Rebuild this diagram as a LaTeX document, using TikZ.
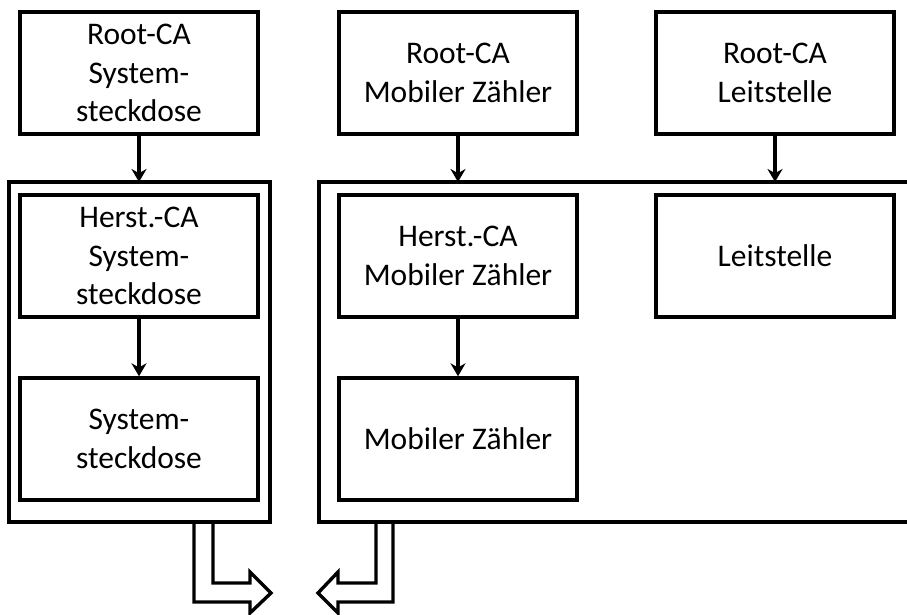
\documentclass[tikz,border=0pt]{standalone}
\usepackage{fontspec}
\setmainfont{Carlito}
\usetikzlibrary{arrows.meta}
\begin{document}
\begin{tikzpicture}[x=1pt,y=-1pt,
  box/.style={draw,line width=3.4pt,minimum width=238pt,minimum height=122pt,align=center,inner sep=0pt,
    font=\fontsize{31.5}{38.5}\selectfont},
  frame/.style={line width=3.4pt},
  conn/.style={line width=3.2pt,-{Stealth[length=13pt,width=15pt]}},
  hollow/.style={line width=3.4pt,line join=miter}]
\useasboundingbox (0,0) rectangle (907,615);
% containers
\draw[frame] (9,182) rectangle (270,522);
\draw[frame] (908,182) -- (319,182) -- (319,522) -- (908,522);
\coordinate (c1top) at (139,182);
\coordinate (c2top) at (458,182);
\coordinate (c3top) at (775,182);
% boxes
\node[box] (rs) at (139,73) {Root-CA\\System-\\steckdose};
\node[box] (hs) at (139,256) {Herst.-CA\\System-\\steckdose};
\node[box] (ss) at (139,439) {System-\\steckdose};
\node[box] (rm) at (458,73) {Root-CA\\Mobiler Zähler};
\node[box] (hm) at (458,256) {Herst.-CA\\Mobiler Zähler};
\node[box] (mz) at (458,439) {Mobiler Zähler};
\node[box] (rl) at (775,73) {Root-CA\\Leitstelle};
\node[box] (ls) at (775,256) {Leitstelle};
% connectors
\draw[conn] (rs.south) -- (c1top);
\draw[conn] (rm.south) -- (c2top);
\draw[conn] (rl.south) -- (c3top);
\draw[conn] (hs.south) -- (ss.north);
\draw[conn] (hm.south) -- (mz.north);
% hollow arrows
\draw[hollow] (194,522) -- (194,602) -- (250,602) -- (250,613) -- (271,593) -- (250,572) -- (250,583) -- (213,583) -- (213,522);
\draw[hollow] (393,522) -- (393,602) -- (338,602) -- (338,613) -- (318,593) -- (338,572) -- (338,583) -- (376,583) -- (376,522);
\end{tikzpicture}
\end{document}
